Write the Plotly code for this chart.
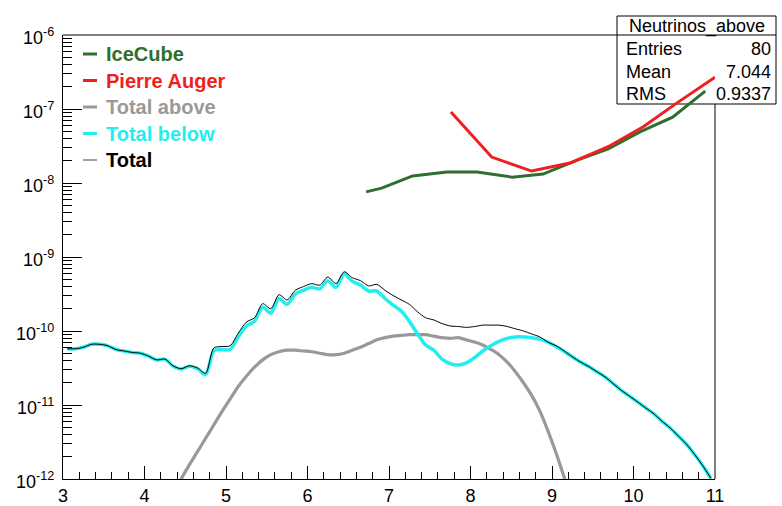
import numpy as np
import plotly.graph_objects as go

# Histogram binning: 80 bins between 3 and 11, points at bin centres
x_bins = list(np.round(np.linspace(3.05, 10.95, 80), 2))

total = [5.75e-11, 5.75e-11, 6.03e-11, 6.61e-11, 6.61e-11, 6.31e-11, 5.62e-11, 5.37e-11, 5.13e-11, 5.01e-11,
         4.57e-11, 4.07e-11, 4.17e-11, 3.39e-11, 3.09e-11, 3.39e-11, 3.16e-11, 2.69e-11, 5.89e-11, 6.17e-11,
         6.31e-11, 9.33e-11, 1.32e-10, 1.51e-10, 2.34e-10, 2.00e-10, 3.09e-10, 2.63e-10, 3.55e-10, 3.98e-10,
         4.37e-10, 4.17e-10, 5.37e-10, 4.37e-10, 6.31e-10, 5.25e-10, 4.79e-10, 4.07e-10, 4.27e-10, 3.55e-10,
         3.02e-10, 2.63e-10, 2.29e-10, 1.82e-10, 1.51e-10, 1.41e-10, 1.26e-10, 1.17e-10, 1.15e-10, 1.12e-10,
         1.15e-10, 1.20e-10, 1.20e-10, 1.20e-10, 1.15e-10, 1.07e-10, 1.00e-10, 9.12e-11, 8.32e-11, 7.08e-11,
         6.31e-11, 5.37e-11, 4.47e-11, 3.80e-11, 3.31e-11, 2.82e-11, 2.40e-11, 1.95e-11, 1.58e-11, 1.32e-11,
         1.10e-11, 9.12e-12, 7.59e-12, 6.03e-12, 4.90e-12, 3.80e-12, 2.95e-12, 2.14e-12, 1.51e-12, 1.02e-12]

total_below = [5.75e-11, 5.75e-11, 6.03e-11, 6.61e-11, 6.61e-11, 6.31e-11, 5.62e-11, 5.37e-11, 5.13e-11, 5.01e-11,
               4.57e-11, 4.07e-11, 4.17e-11, 3.37e-11, 3.06e-11, 3.35e-11, 3.10e-11, 2.57e-11, 5.37e-11, 5.62e-11,
               5.62e-11, 8.32e-11, 1.17e-10, 1.35e-10, 2.09e-10, 1.74e-10, 2.75e-10, 2.29e-10, 3.16e-10, 3.55e-10,
               3.89e-10, 3.72e-10, 4.79e-10, 3.89e-10, 5.89e-10, 4.68e-10, 4.17e-10, 3.47e-10, 3.47e-10, 2.75e-10,
               2.24e-10, 1.86e-10, 1.35e-10, 9.12e-11, 6.46e-11, 5.50e-11, 4.17e-11, 3.63e-11, 3.47e-11, 3.72e-11,
               4.37e-11, 5.37e-11, 6.31e-11, 7.24e-11, 7.94e-11, 8.32e-11, 8.32e-11, 8.13e-11, 7.76e-11, 7.08e-11,
               6.17e-11, 5.30e-11, 4.47e-11, 3.80e-11, 3.31e-11, 2.82e-11, 2.40e-11, 1.95e-11, 1.58e-11, 1.32e-11,
               1.10e-11, 9.12e-12, 7.59e-12, 6.03e-12, 4.90e-12, 3.80e-12, 2.95e-12, 2.14e-12, 1.51e-12, 1.02e-12]

total_above = [None, None, None, None, None, None, None, None, None, None,
               None, None, None, 5.89e-13, 1.00e-12, 1.55e-12, 2.34e-12, 3.55e-12, 5.37e-12, 8.13e-12,
               1.20e-11, 1.78e-11, 2.45e-11, 3.24e-11, 4.07e-11, 4.79e-11, 5.25e-11, 5.50e-11, 5.50e-11, 5.37e-11,
               5.25e-11, 5.01e-11, 4.79e-11, 4.79e-11, 5.01e-11, 5.50e-11, 6.03e-11, 6.76e-11, 7.59e-11, 8.13e-11,
               8.51e-11, 8.71e-11, 8.91e-11, 8.91e-11, 8.91e-11, 8.51e-11, 8.13e-11, 7.94e-11, 8.13e-11, 7.59e-11,
               7.08e-11, 6.46e-11, 5.62e-11, 4.79e-11, 3.80e-11, 2.82e-11, 2.00e-11, 1.35e-11, 8.32e-12, 4.47e-12,
               2.24e-12, 1.05e-12, 5.01e-13, None, None, None, None, None, None, None,
               None, None, None, None, None, None, None, None, None, None]

icecube_x = [6.72, 6.91, 7.29, 7.71, 8.08, 8.51, 8.89, 9.31, 9.69, 10.08, 10.48, 10.88]
icecube_y = [7.59e-9, 8.51e-9, 1.245e-8, 1.41e-8, 1.41e-8, 1.20e-8, 1.32e-8, 2.04e-8, 2.88e-8, 4.90e-8, 7.76e-8, 1.74e-7]

auger_x = [7.76, 8.26, 8.75, 9.22, 9.69, 10.12, 10.53, 11.0]
auger_y = [9.12e-8, 2.24e-8, 1.45e-8, 1.86e-8, 3.09e-8, 5.75e-8, 1.20e-7, 2.69e-7]

y_tickvals = [1e-12, 1e-11, 1e-10, 1e-9, 1e-8, 1e-7, 1e-6]
y_ticktext = ["10<sup>-12</sup>", "10<sup>-11</sup>", "10<sup>-10</sup>", "10<sup>-9</sup>",
              "10<sup>-8</sup>", "10<sup>-7</sup>", "10<sup>-6</sup>"]

legend_items = [("IceCube", "#2e6e2e", 3), ("Pierre Auger", "#f01e1e", 3), ("Total above", "#999999", 3),
                ("Total below", "#22eef0", 3), ("Total", "#000000", 1)]

stats_title = "Neutrinos_above"
stats_rows = [("Entries", "80"), ("Mean", "7.044"), ("RMS", "0.9337")]

GREEN, RED, GRAY, CYAN, BLACK = [c for _, c, _ in legend_items]
FONT = "Liberation Sans, Arial, Helvetica, sans-serif"

fig = go.Figure()
fig.add_trace(go.Scatter(x=icecube_x, y=icecube_y, mode="lines", line=dict(color=GREEN, width=3)))
fig.add_trace(go.Scatter(x=auger_x, y=auger_y, mode="lines", line=dict(color=RED, width=3)))
fig.add_trace(go.Scatter(x=x_bins, y=total_above, mode="lines",
                         line=dict(color=GRAY, width=3.2, shape="spline", smoothing=0.8)))
fig.add_trace(go.Scatter(x=x_bins, y=total_below, mode="lines",
                         line=dict(color=CYAN, width=3.5, shape="spline", smoothing=0.8)))
fig.add_trace(go.Scatter(x=x_bins, y=total, mode="lines",
                         line=dict(color=BLACK, width=1, shape="spline", smoothing=0.8)))

W, H = 782, 506
L, R, T, B = 63, 67, 35, 27
pw, ph = W - L - R, H - T - B


def px(xp):
    return (xp - L) / pw


def py(yp):
    return (H - B - yp) / ph


shapes = []
annotations = []

# Y tick labels (ROOT-style powers of ten), placed at the tick values
for val, txt in zip(y_tickvals, y_ticktext):
    annotations.append(dict(xref="paper", yref="y", x=px(56), y=np.log10(val), xanchor="right",
                            yanchor="middle", yshift=-1, text=txt, showarrow=False,
                            font=dict(family=FONT, size=18, color="black")))

# Legend: short line samples and coloured bold labels
for i, (name, color, w) in enumerate(legend_items):
    yy = py(54 + i * 26.5)
    shapes.append(dict(type="line", xref="paper", yref="paper", x0=px(83), x1=px(97), y0=yy, y1=yy,
                       line=dict(color=color if name != "Total" else "#444444", width=w)))
    annotations.append(dict(xref="paper", yref="paper", x=px(104), y=yy, xanchor="left", yanchor="middle",
                            text="<b>%s</b>" % name, showarrow=False,
                            font=dict(family=FONT, size=20, color=color)))

# Statistics box
bx0, bx1, by0, by1 = 617, 776, 16, 104
shapes.append(dict(type="rect", xref="paper", yref="paper", x0=px(bx0), x1=px(bx1), y0=py(by1), y1=py(by0),
                   line=dict(color="black", width=1), fillcolor="white", layer="below"))
shapes.append(dict(type="line", xref="paper", yref="paper", x0=px(bx0), x1=px(bx1), y0=1, y1=1,
                   line=dict(color="black", width=1)))
annotations.append(dict(xref="paper", yref="paper", x=px((bx0 + bx1) / 2), y=py(26), xanchor="center",
                        yanchor="middle", text=stats_title, showarrow=False,
                        font=dict(family=FONT, size=18, color="black")))
for i, (k, v) in enumerate(stats_rows):
    yy = py(49 + i * 22.5)
    annotations.append(dict(xref="paper", yref="paper", x=px(624), y=yy, xanchor="left", yanchor="middle",
                            text=k, showarrow=False, font=dict(family=FONT, size=18, color="black")))
    annotations.append(dict(xref="paper", yref="paper", x=px(773), y=yy, xanchor="right", yanchor="middle",
                            text=v, showarrow=False, font=dict(family=FONT, size=18, color="black")))

# Frame: top and right edges stop at the statistics box
shapes.append(dict(type="line", xref="paper", yref="paper", x0=0, x1=px(bx0), y0=1, y1=1,
                   line=dict(color="black", width=1)))
shapes.append(dict(type="line", xref="paper", yref="paper", x0=1, x1=1, y0=0, y1=py(by1),
                   line=dict(color="black", width=1)))

fig.update_layout(
    width=W, height=H,
    margin=dict(l=L, r=R, t=T, b=B, autoexpand=False),
    paper_bgcolor="white", plot_bgcolor="rgba(0,0,0,0)",
    showlegend=False,
    shapes=shapes, annotations=annotations,
    font=dict(family=FONT, size=18, color="black"),
)
fig.update_xaxes(range=[3, 11], tick0=3, dtick=1, showgrid=False, zeroline=False, automargin=False,
                 showline=True, linecolor="black", linewidth=1,
                 ticks="inside", ticklen=13, tickcolor="black",
                 minor=dict(dtick=0.2, ticks="inside", ticklen=7, tickcolor="black", showgrid=False),
                 tickfont=dict(family=FONT, size=18, color="black"))
fig.update_yaxes(type="log", range=[-12, -6], dtick=1, showticklabels=False,
                 showgrid=False, zeroline=False, automargin=False, showline=True, linecolor="black",
                 linewidth=1, ticks="inside", ticklen=19, tickcolor="black",
                 minor=dict(dtick="D1", ticks="inside", ticklen=9, tickcolor="black", showgrid=False))

fig.write_html("out.html")
